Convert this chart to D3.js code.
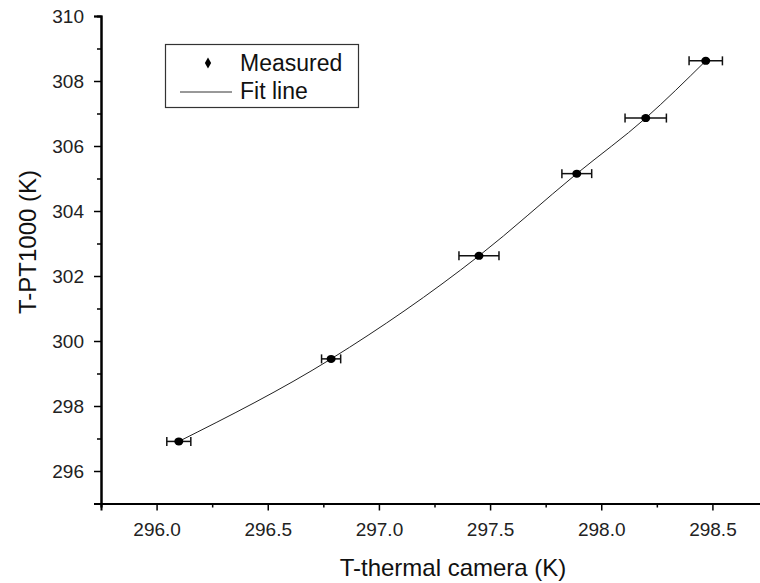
<!DOCTYPE html>
<html>
<head>
<meta charset="utf-8">
<script src="https://cdn.jsdelivr.net/npm/d3@7"></script>
<style>
  body { margin: 0; background: #fff; }
  text { font-family: "Liberation Sans", Arial, sans-serif; }
</style>
</head>
<body>
<div id="chart"></div>
<script>
// measured points
const xMeasured = [296.10, 296.785, 297.45, 297.89, 298.20, 298.47];
const yMeasured = [296.91, 299.45, 302.62, 305.15, 306.86, 308.62];
const xErr = [0.054, 0.043, 0.09, 0.067, 0.093, 0.075];

const xTicks = [296.0, 296.5, 297.0, 297.5, 298.0, 298.5];
const xMinor = [295.75, 296.25, 296.75, 297.25, 297.75, 298.25, 298.75];
const yTicks = [296, 298, 300, 302, 304, 306, 308, 310];
const yMinor = [295, 297, 299, 301, 303, 305, 307, 309];

const legendLabels = ["Measured", "Fit line"];

const width = 760, height = 583;

const svg = d3.select('#chart').append('svg')
    .attr('width', width)
    .attr('height', height);

const x = d3.scaleLinear().domain([295.75, 298.75]).range([101, 768]);
const y = d3.scaleLinear().domain([295, 310]).range([503.5, 16]);

const points = xMeasured.map(function(d, i) {
    return {x: d, y: yMeasured[i], e: xErr[i]};
});

// axes - minor ticks first, then major ticks with labels
function styleAxis(g) {
    g.select('.domain').attr('stroke', '#000').attr('stroke-width', 2);
    g.selectAll('.tick line').attr('stroke', '#000').attr('stroke-width', 1.5);
    g.selectAll('.tick text').attr('fill', '#222').style('font-size', '19px');
}

svg.append('g')
    .attr('transform', 'translate(0,' + y.range()[0] + ')')
    .call(d3.axisBottom(x).tickValues(xMinor).tickSize(4).tickFormat(''))
    .call(styleAxis);
svg.append('g')
    .attr('transform', 'translate(0,' + y.range()[0] + ')')
    .call(d3.axisBottom(x).tickValues(xTicks).tickSize(7).tickPadding(12).tickFormat(d3.format('.1f')))
    .call(styleAxis);

svg.append('g')
    .attr('transform', 'translate(' + x.range()[0] + ',0)')
    .call(d3.axisLeft(y).tickValues(yMinor).tickSize(4).tickFormat(''))
    .call(styleAxis);
svg.append('g')
    .attr('transform', 'translate(' + x.range()[0] + ',0)')
    .call(d3.axisLeft(y).tickValues(yTicks).tickSize(7).tickPadding(10).tickFormat(d3.format('d')))
    .call(styleAxis);

// axis titles
svg.append('text')
    .attr('x', 453).attr('y', 576)
    .attr('text-anchor', 'middle')
    .style('font-size', '24px')
    .attr('fill', '#111')
    .text('T-thermal camera (K)');

svg.append('text')
    .attr('transform', 'translate(36,242) rotate(-90)')
    .attr('text-anchor', 'middle')
    .style('font-size', '24px')
    .attr('fill', '#111')
    .text('T-PT1000 (K)');

// fit line through the measured points
const line = d3.line()
    .x(function(d) { return x(d.x); })
    .y(function(d) { return y(d.y); })
    .curve(d3.curveMonotoneX);

svg.append('path')
    .datum(points)
    .attr('d', line)
    .attr('fill', 'none')
    .attr('stroke', '#222')
    .attr('stroke-width', 1);

// error bars
const eb = svg.append('g').attr('stroke', '#111').attr('stroke-width', 1.5);
eb.selectAll('.bar').data(points).enter().append('line')
    .attr('x1', function(d) { return x(d.x - d.e); })
    .attr('x2', function(d) { return x(d.x + d.e); })
    .attr('y1', function(d) { return y(d.y); })
    .attr('y2', function(d) { return y(d.y); });
eb.selectAll('.capl').data(points).enter().append('line')
    .attr('x1', function(d) { return x(d.x - d.e); })
    .attr('x2', function(d) { return x(d.x - d.e); })
    .attr('y1', function(d) { return y(d.y) - 4.5; })
    .attr('y2', function(d) { return y(d.y) + 4.5; });
eb.selectAll('.capr').data(points).enter().append('line')
    .attr('x1', function(d) { return x(d.x + d.e); })
    .attr('x2', function(d) { return x(d.x + d.e); })
    .attr('y1', function(d) { return y(d.y) - 4.5; })
    .attr('y2', function(d) { return y(d.y) + 4.5; });

svg.selectAll('.pt').data(points).enter().append('ellipse')
    .attr('cx', function(d) { return x(d.x); })
    .attr('cy', function(d) { return y(d.y); })
    .attr('rx', 4.5).attr('ry', 4)
    .attr('fill', '#000');

// legend
const lg = svg.append('g');
lg.append('rect')
    .attr('x', 165.5).attr('y', 44.5)
    .attr('width', 193).attr('height', 63)
    .attr('fill', '#fff').attr('stroke', '#333').attr('stroke-width', 1.2);
lg.append('path')
    .attr('d', d3.symbol().type(d3.symbolDiamond).size(34)())
    .attr('transform', 'translate(208,63)')
    .attr('fill', '#000');
lg.append('line')
    .attr('x1', 180).attr('x2', 232)
    .attr('y1', 92).attr('y2', 92)
    .attr('stroke', '#333').attr('stroke-width', 1);
lg.selectAll('.lt').data(legendLabels).enter().append('text')
    .attr('x', 240)
    .attr('y', function(d, i) { return 71 + i * 28; })
    .style('font-size', '23px')
    .attr('fill', '#111')
    .text(function(d) { return d; });
</script>
</body>
</html>
